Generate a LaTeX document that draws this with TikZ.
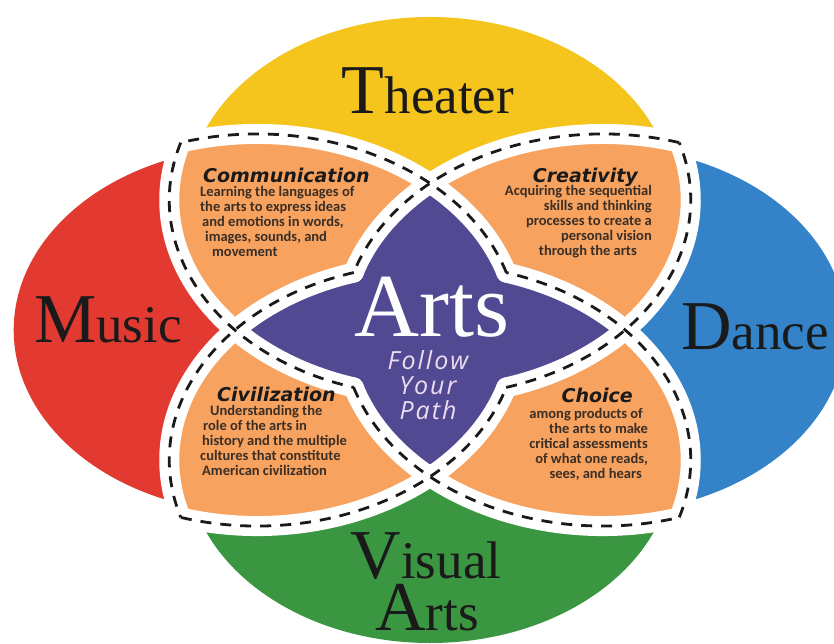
\documentclass[tikz,border=0pt]{standalone}
\usepackage{fontspec}
\setmainfont{Liberation Serif}
\newfontfamily\headfont{DejaVu Sans Bold Oblique}
\newfontfamily\bodyfont{Carlito}
\newfontfamily\pathfont{Open Sans}
\usepackage{tikz}
\definecolor{theater}{HTML}{F5C51E}
\definecolor{music}{HTML}{E23A30}
\definecolor{dance}{HTML}{3482C8}
\definecolor{visual}{HTML}{3A9640}
\definecolor{petal}{HTML}{F7A25F}
\definecolor{core}{HTML}{514A92}
\definecolor{ink}{HTML}{1A1A1A}
\definecolor{bodyink}{HTML}{3A2E25}
\definecolor{pathink}{HTML}{EEDCEF}
\tikzset{artname/.style={anchor=base,text=ink,inner sep=0pt,text depth=0pt}}
\tikzset{petalhead/.style={font=\headfont\fontsize{19}{19}\selectfont,
                           text=ink,inner sep=0pt,text depth=0pt}}
\tikzset{petaltext/.style={font=\bodyfont\bfseries\fontsize{14.5}{14.8}\selectfont,
                           text=bodyink,inner sep=0pt}}
\newcommand\bigname[2]{{\fontsize{70}{70}\selectfont #1}{\fontsize{53}{53}\selectfont #2}}
\def\rbig{196}
\def\rcol{183}

\begin{document}
\begin{tikzpicture}[x=1pt, y=1pt]
    \tikzstyle{band}=[draw=white, line width=20pt, line cap=round]
    \tikzstyle{stitch}=[draw=ink, line width=2.8pt, dash pattern=on 11pt off 9pt]

    \useasboundingbox (-430,-314) rectangle (404,330);

    \begin{scope}[xscale=1.33]
    % Draw the four coloured ovals
    \foreach \cx/\cy/\col in {0/130/theater, -130/0/music, 130/0/dance, 0/-130/visual}
        \fill[\col] (\cx,\cy) circle (\rcol);

    % Each pair of neighbouring rings gives one orange petal
    \foreach \ay in {130, -130}
    {
        \foreach \bx in {-130, 130}
        {
            \begin{scope}
                \clip (0,\ay) circle (\rbig);
                \fill[petal] (\bx,0) circle (\rbig);
            \end{scope}
        }
    }

    % The star in the middle is the union of the two lenses
    \begin{scope}
        \clip (0,130) circle (\rbig);
        \fill[core] (0,-130) circle (\rbig);
    \end{scope}
    \begin{scope}
        \clip (-130,0) circle (\rbig);
        \fill[core] (130,0) circle (\rbig);
    \end{scope}

    % White bands first, then the stitching on top
    \foreach \sty in {band, stitch}
    {
        \foreach \cx/\cy/\t [evaluate=\t as \ta using \t+17,
                             evaluate=\t as \tb using \t-107] in
                 {0/130/270, -130/0/0, 130/0/180, 0/-130/90}
        {
            \draw[\sty] (\cx,\cy) ++(\ta:\rbig) arc[start angle=\ta, delta angle=90, radius=\rbig];
            \draw[\sty] (\cx,\cy) ++(\tb:\rbig) arc[start angle=\tb, delta angle=90, radius=\rbig];
        }
    }
    \end{scope}

    % Names of the four arts
    \node[artname] (theater) at (-2,216) {\bigname{T}{heater}};
    \node[artname] (music) at (-322,-13) {\bigname{M}{usic}};
    \node[artname] (dance) at (325,-20) {\bigname{D}{ance}};
    \node[artname] (visual) at (-4,-248) {\bigname{V}{isual}};
    \node[artname] (visual-arts) at (-3,-300) {\bigname{A}{rts}};

    % The centre (base of a node with several lines is its last line)
    \node[anchor=base, text=white, inner sep=0pt, text depth=0pt,
          font=\fontsize{90}{90}\selectfont] (arts) at (2,-7) {Arts};
    \node[anchor=base, align=center, text=pathink, inner sep=0pt,
          font=\pathfont\itshape\fontsize{25}{25}\selectfont\addfontfeature{LetterSpace=8}]
          (path) at (-2,-90) {Follow\\Your\\Path};

    % The four petals
    \node[petalhead, anchor=base west] (comm-head) at (-227,147) {Communication};
    \node[petaltext, anchor=base west, align=left] (comm-text) at (-230,73.8)
          {Learning the languages of\\the arts to express ideas\\\hspace*{2pt}and emotions in words,\\
           \hspace*{5pt}images, sounds, and\\\hspace*{12pt}movement};

    \node[petalhead, anchor=base east] (crea-head) at (208,147) {Creativity};
    \node[petaltext, anchor=base east, align=right] (crea-text) at (222,74.8)
          {Acquiring the sequential\\skills and thinking\\processes to create a\hspace*{2pt}\\
           personal vision\hspace*{10pt}\\through the arts\hspace*{15pt}};

    \node[petalhead, anchor=base west] (civ-head) at (-213,-72) {Civilization};
    \node[petaltext, anchor=base west, align=left] (civ-text) at (-230,-145.2)
          {\hspace*{10pt}Understanding the\\\hspace*{3pt}role of the arts in\\\hspace*{2pt}history and the multiple\\
           cultures that constitute\\\hspace*{2pt}American civilization};

    \node[petalhead, anchor=base east] (choice-head) at (203,-73) {Choice};
    \node[petaltext, anchor=base east, align=right] (choice-text) at (218,-148.2)
          {among products of\hspace*{5pt}\\the arts to make\hspace*{5pt}\\critical assessments\\
           of what one reads,\hspace*{5pt}\\sees, and hears\hspace*{6pt}};
\end{tikzpicture}
\end{document}
